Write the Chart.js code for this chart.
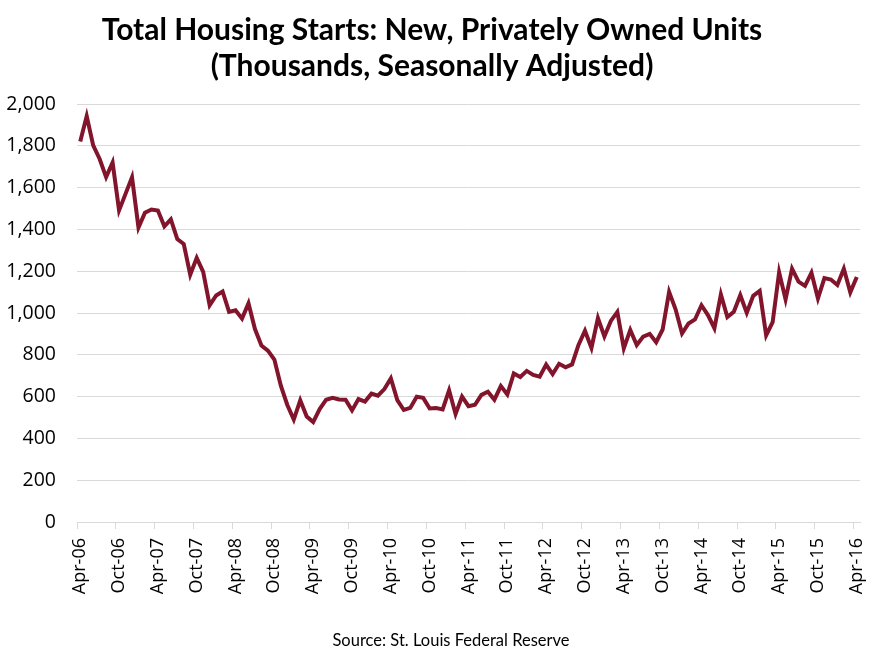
<!DOCTYPE html>
<html>
<head>
<meta charset="utf-8">
<script src="https://cdn.jsdelivr.net/npm/chart.js@4"></script>
<style>
  html, body { margin: 0; padding: 0; background: #ffffff; }
  #wrap { width: 879px; height: 667px; position: relative; }
</style>
</head>
<body>
<div id="wrap"><canvas id="c"></canvas></div>
<script>
const categories = [
  "Apr-06","May-06","Jun-06","Jul-06","Aug-06","Sep-06","Oct-06","Nov-06","Dec-06",
  "Jan-07","Feb-07","Mar-07","Apr-07","May-07","Jun-07","Jul-07","Aug-07","Sep-07","Oct-07","Nov-07","Dec-07",
  "Jan-08","Feb-08","Mar-08","Apr-08","May-08","Jun-08","Jul-08","Aug-08","Sep-08","Oct-08","Nov-08","Dec-08",
  "Jan-09","Feb-09","Mar-09","Apr-09","May-09","Jun-09","Jul-09","Aug-09","Sep-09","Oct-09","Nov-09","Dec-09",
  "Jan-10","Feb-10","Mar-10","Apr-10","May-10","Jun-10","Jul-10","Aug-10","Sep-10","Oct-10","Nov-10","Dec-10",
  "Jan-11","Feb-11","Mar-11","Apr-11","May-11","Jun-11","Jul-11","Aug-11","Sep-11","Oct-11","Nov-11","Dec-11",
  "Jan-12","Feb-12","Mar-12","Apr-12","May-12","Jun-12","Jul-12","Aug-12","Sep-12","Oct-12","Nov-12","Dec-12",
  "Jan-13","Feb-13","Mar-13","Apr-13","May-13","Jun-13","Jul-13","Aug-13","Sep-13","Oct-13","Nov-13","Dec-13",
  "Jan-14","Feb-14","Mar-14","Apr-14","May-14","Jun-14","Jul-14","Aug-14","Sep-14","Oct-14","Nov-14","Dec-14",
  "Jan-15","Feb-15","Mar-15","Apr-15","May-15","Jun-15","Jul-15","Aug-15","Sep-15","Oct-15","Nov-15","Dec-15",
  "Jan-16","Feb-16","Mar-16","Apr-16"
];

const housingStarts = [
  1821,1942,1802,1737,1650,1720,1491,1570,1649,
  1409,1480,1495,1490,1415,1448,1354,1330,1183,1264,1197,1037,
  1084,1103,1005,1013,973,1046,923,844,820,777,652,560,
  490,582,505,478,540,585,594,586,585,534,588,576,
  614,604,636,687,583,536,546,599,594,543,545,539,
  630,517,600,554,561,608,623,585,650,610,711,694,
  723,704,695,753,708,757,740,754,847,915,833,976,
  888,962,1005,831,919,847,887,900,860,921,1101,1018,
  902,950,969,1037,990,927,1089,981,1006,1085,1001,1082,
  1106,893,956,1195,1065,1212,1150,1130,1193,1070,1167,1160,
  1134,1212,1099,1172
];

const yTicks = [0,200,400,600,800,1000,1200,1400,1600,1800,2000];
const titleLines = ["Total Housing Starts: New, Privately Owned Units", "(Thousands, Seasonally Adjusted)"];
const sourceText = "Source: St. Louis Federal Reserve";
const labelEvery = 6;

const sourceNote = {
  id: 'sourceNote',
  afterDraw(chart) {
    const ctx = chart.ctx;
    ctx.save();
    ctx.font = '16.5px Lato';
    ctx.fillStyle = '#000000';
    ctx.textAlign = 'center';
    ctx.textBaseline = 'middle';
    ctx.fillText(sourceText, 451, 641);
    ctx.restore();
  }
};

new Chart(document.getElementById('c'), {
  type: 'line',
  data: {
    labels: categories,
    datasets: [{
      data: housingStarts,
      borderColor: '#82142b',
      borderWidth: 4,
      pointRadius: 0,
      tension: 0,
      fill: false
    }]
  },
  plugins: [sourceNote],
  options: {
    responsive: true,
    maintainAspectRatio: false,
    animation: false,
    layout: { padding: { left: 4, right: 19, top: 0, bottom: 43 } },
    plugins: {
      legend: { display: false },
      tooltip: { enabled: false },
      title: {
        display: true,
        text: titleLines,
        color: '#000000',
        font: { family: 'Lato', size: 30, weight: 'bold', lineHeight: 1.2 },
        padding: { top: 12, bottom: 20 }
      }
    },
    scales: {
      x: {
        type: 'category',
        offset: true,
        border: { display: true, color: '#d9d9d9', width: 1 },
        grid: {
          offset: true,
          drawOnChartArea: false,
          drawTicks: true,
          tickLength: 7,
          color: (ctx) => (ctx.index % labelEvery === 0 ? '#d9d9d9' : 'rgba(0,0,0,0)')
        },
        afterFit: (axis) => { axis.height = 102; axis.paddingLeft = 0; axis.paddingRight = 0; },
        ticks: {
          autoSkip: false,
          maxRotation: 90,
          minRotation: 90,
          padding: 9,
          color: '#000000',
          font: { family: 'Open Sans', size: 18 },
          callback: function (value, index) {
            return index % labelEvery === 0 ? categories[index] : '';
          }
        }
      },
      y: {
        min: 0,
        max: 2000,
        border: { display: false },
        grid: { color: '#d9d9d9', lineWidth: 1, drawTicks: false },
        afterBuildTicks: (axis) => { axis.ticks = yTicks.map(v => ({ value: v })); },
        afterFit: (axis) => { axis.width = 73; },
        ticks: {
          padding: 21,
          color: '#000000',
          font: { family: 'Open Sans', size: 19.5 },
          callback: (v) => v.toLocaleString('en-US')
        }
      }
    }
  }
});
</script>
</body>
</html>
